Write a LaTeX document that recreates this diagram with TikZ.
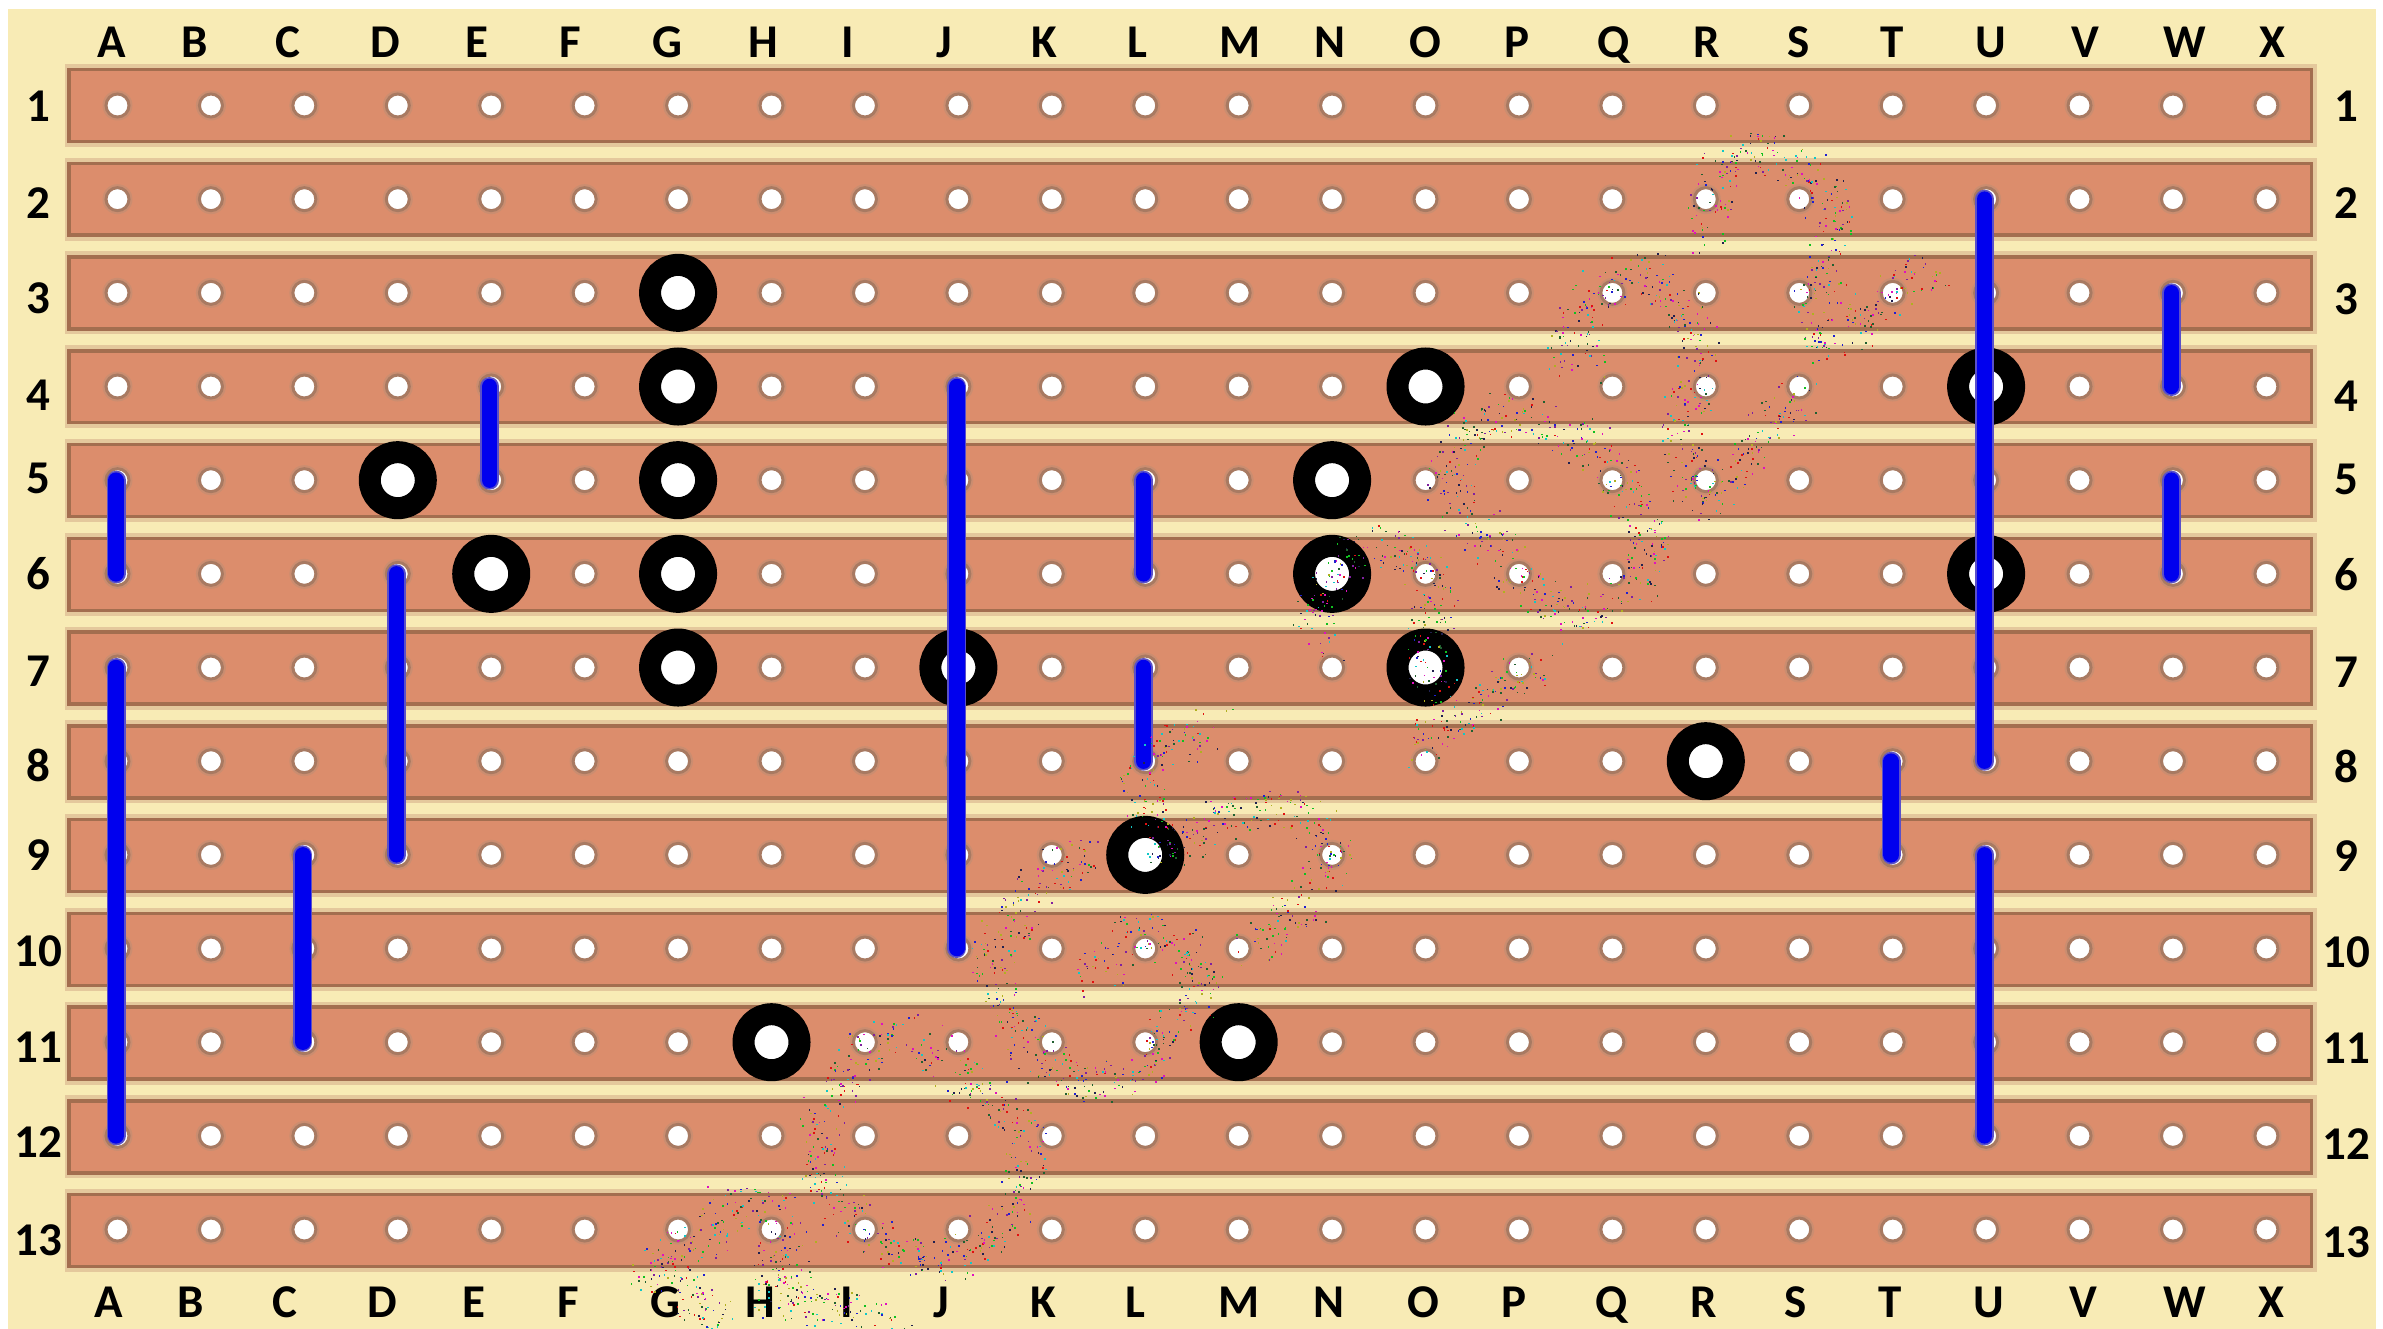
\documentclass[tikz,border=0pt]{standalone}
\usepackage{fontspec}
\setmainfont{Carlito}[BoldFont={Carlito Bold}]
\definecolor{bgc}{HTML}{F8EBB5}
\definecolor{stripc}{HTML}{DC8D6C}
\definecolor{edgec}{HTML}{A36E4F}
\definecolor{shadec}{HTML}{E4C89C}
\definecolor{holeedge}{HTML}{A87A62}
\definecolor{halo}{HTML}{CB8D70}
\definecolor{wirec}{HTML}{0000EE}
\definecolor{wireedge}{HTML}{5A50C8}
\definecolor{spk0}{HTML}{E01010}
\definecolor{spk1}{HTML}{10C020}
\definecolor{spk2}{HTML}{2020D0}
\definecolor{spk3}{HTML}{E010C0}
\definecolor{spk4}{HTML}{10C8C8}
\definecolor{spk5}{HTML}{8020A0}
\definecolor{spk6}{HTML}{202050}
\definecolor{spk7}{HTML}{B0B020}
\definecolor{spk8}{HTML}{206030}
\tikzset{
  lab/.style={font=\fontsize{47}{47}\selectfont\bfseries, text=black, inner sep=0pt, text height=30pt, text depth=0pt, anchor=center},
  hole/.style={circle, fill=white, draw=holeedge, line width=3pt, minimum size=23pt, inner sep=0pt},
  ring/.style={circle, draw=black, fill=white, line width=22pt, minimum size=56pt, inner sep=0pt},
  wireout/.style={draw=wireedge, line width=19pt, line cap=round},
  wire/.style={draw=wirec, line width=15.5pt, line cap=round},
  strip/.style={fill=stripc, draw=edgec, line width=3.5pt},
  stripshade/.style={fill=shadec},
}
\newcommand\strand[7]{% ox oy sx sy x0 y0 list
  \foreach \xx/\yy [remember=\xx as \px (initially #5), remember=\yy as \py (initially #6)] in {#7}{
    \pgfmathsetmacro\xa{#1+\px/#3}\pgfmathsetmacro\ya{#2+\py/#4}
    \pgfmathsetmacro\xb{#1+\xx/#3}\pgfmathsetmacro\yb{#2+\yy/#4}
    \pgfmathtruncatemacro\nn{1+0.8*veclen(\xb-\xa,\yb-\ya)}
    \foreach \i in {1,...,\nn}{
      \pgfmathsetmacro\myt{rnd}
      \pgfmathsetmacro\dx{\xa+(\xb-\xa)*\myt+rand*21}
      \pgfmathsetmacro\dy{\ya+(\yb-\ya)*\myt+rand*21}
      \pgfmathtruncatemacro\kk{int(rnd*8.99)}
      \fill[spk\kk] (\dx-0.8,\dy-0.8) rectangle ++(1.6,1.6);
    }
  }
}
\begin{document}
\begin{tikzpicture}[x=1pt,y=-1pt]
\useasboundingbox (0,0) rectangle (2383,1329);
\fill[white] (0,0) rectangle (2383,1329);
\fill[bgc] (8,9) rectangle (2376,1329);
% strips
\foreach \r in {0,...,12}{
  \pgfmathsetmacro\yt{68+93.75*\r}
  \fill[stripshade] (65,\yt-4) rectangle (2317,\yt+79);
  \draw[strip] (69,\yt+1.7) rectangle (2311.5,\yt+73.5);
}
% holes
\foreach \c [count=\ci from 0] in {A,B,C,D,E,F,G,H,I,J,K,L,M,N,O,P,Q,R,S,T,U,V,W,X}{
  \foreach \r in {1,...,13}{
    \pgfmathsetmacro\hx{117.5+93.43*\ci}
    \pgfmathsetmacro\hy{105.5+93.67*(\r-1)}
    \fill[halo] (\hx,\hy) circle (15);
    \node[hole] (\c\r) at (\hx,\hy) {};
  }
}
% rings
\foreach \n in {G3,G4,G5,G6,G7,D5,E6,O4,U4,U6,N5,N6,O7,J7,L9,R8,M11,H11}{
  \node[ring] (ring\n) at (\n.center) {};
}
% jumpers
\foreach \a/\b in {A5/A6,A7/A12,C9/C11,D6/D9,E4/E5,J4/J10,L5/L6,L7/L8,T8/T9,U2/U8,U9/U12,W3/W4,W5/W6}{
  \draw[wireout] ([xshift=-1.5pt]\a.center) -- ([xshift=-1.5pt]\b.center);
  \draw[wire] ([xshift=-1.5pt]\a.center) -- ([xshift=-1.5pt]\b.center);
}
% letters
\foreach \c/\tx/\bx in {A/112/109,B/195/191,C/288/285,D/385/382,E/477/474,F/570/568,G/667/665,H/763/760,I/848/847,J/944/941,K/1044/1043,L/1137/1135,M/1240/1239,N/1330/1329,O/1425/1423,P/1517/1514,Q/1614/1612,R/1707/1704,S/1799/1796,T/1892/1890,U/1991/1989,V/2085/2083,W/2185/2185,X/2272/2271}{
  \node[lab] (top\c) at (\tx,43) {\c};
  \node[lab] (bot\c) at (\bx,1302) {\c};
}
% numbers
\foreach \r/\ly/\ry in {1/107/107,2/204/204,3/299/300,4/396/397,5/478/479,6/574/575,7/671/672,8/766/767,9/855/856,10/951/952,11/1047/1048,12/1142/1144,13/1240/1242}{
  \node[lab] (left\r) at (38,\ly) {\r};
  \node[lab] (right\r) at (2346,\ry) {\r};
}
% speckled trace
\pgfmathsetseed{4242}
\strand{1280}{120}{2.24}{2.376}{1470}{350}{1370/410,1300/480,1220/530,1190/480,1210/400,1230/310,1240/230,1200/130,1100/75,1020/80,970/150,950/280}
\strand{1280}{120}{2.24}{2.376}{1170}{650}{1100/720,1040/800,950/910,900/830,900/750,920/640,940/530,900/430,810/360,720/410,660/490,640/550,690/600}
\strand{1280}{120}{2.24}{2.376}{830}{1020}{800/1100,700/1170,600/1150,530/1080,470/1000,410/930,370/850,420/740,520/690,600/720,700/780,760/860,810/950,830/1040}
\strand{1280}{120}{2.24}{2.376}{100}{1240}{70/1190,110/1130,130/1060,210/1000,290/1030,370/1130,320/1200,330/1300,370/1360}
\strand{1280}{120}{2.24}{2.376}{590}{1290}{530/1310,470/1390,350/1430,330/1520}
\strand{640}{700}{2.178}{2.493}{1250}{70}{1150/120,1085/190,1100/260,1120/350,1180/370,1220/310,1340/270,1440/280,1510/380,1460/490,1380/580,1320/620}
\strand{640}{700}{2.178}{2.493}{990}{390}{930/400,860/470,800/560,760/640,780/730,820/800,870/900,960/960,1050/950,1120/900,1170/800,1240/720,1190/620,1100/570,1030/620,990/700}
\strand{640}{700}{2.178}{2.493}{600}{830}{530/850,470/900,430/970,390/1040,400/1180,430/1270,490/1320,590/1380,680/1410,760/1340,830/1230,850/1100,790/1010,720/960,680/930,640/860}
\strand{640}{700}{2.178}{2.493}{340}{1350}{280/1270,190/1260,150/1350,70/1400,20/1430,100/1440,120/1500,170/1530,130/1560}
\strand{640}{700}{2.178}{2.493}{290}{1350}{290/1420,340/1430,280/1500,400/1510,560/1560}
\end{tikzpicture}
\end{document}
